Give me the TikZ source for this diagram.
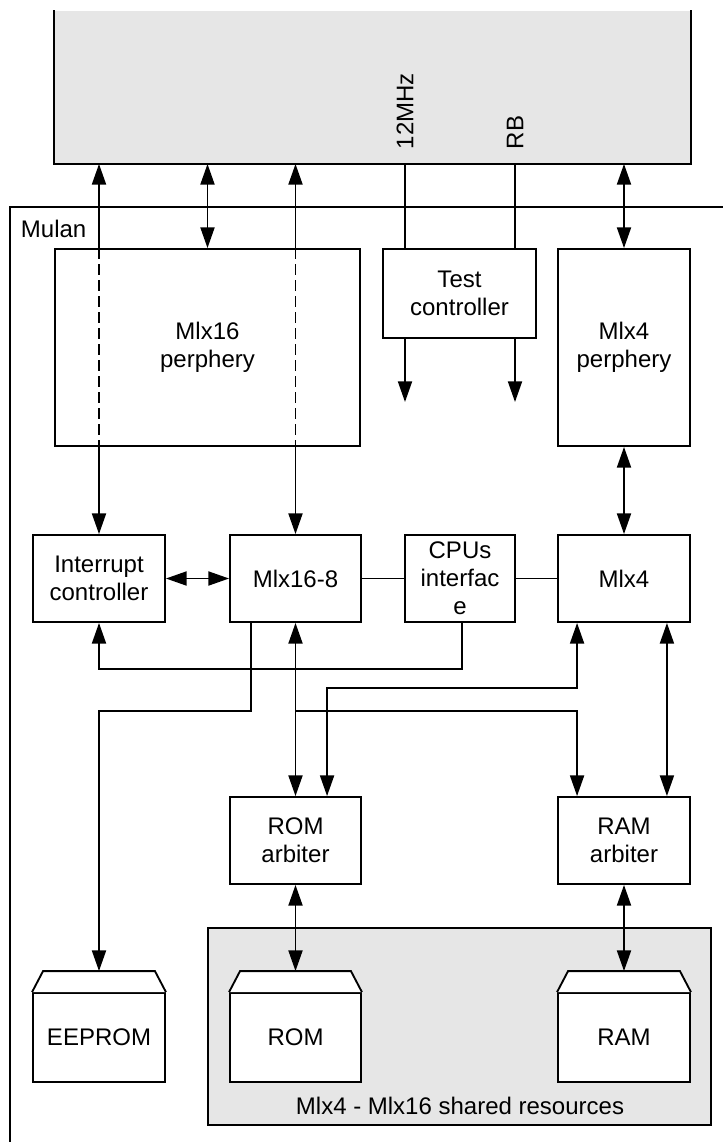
\documentclass[tikz,border=0pt]{standalone}
\usepackage{fontspec}
\setmainfont{Liberation Sans}
\usetikzlibrary{arrows.meta,calc}
\definecolor{shade}{HTML}{E6E6E6}
\begin{document}
\begin{tikzpicture}[x=0.75pt,y=-0.75pt, line width=1.4pt,
  txt/.style={font=\fontsize{18}{21}\selectfont},
  sz/.style 2 args={minimum width=#1*0.75pt, minimum height=#2*0.75pt},
  blk/.style={draw, fill=white, align=center, inner sep=0pt, txt},
  arr/.style={-{Triangle[length=15.5pt,width=10.5pt]}},
  darr/.style={{Triangle[length=15.5pt,width=10.5pt]}-{Triangle[length=15.5pt,width=10.5pt]}},
  dsh/.style={dash pattern=on 8pt off 4pt},
]
\useasboundingbox (0,0) rectangle (723,1142);

% top grey box (open at the top)
\node[fill=shade, sz={635}{152}, inner sep=0pt] (top) at (372.5,87) {};
\draw (top.north west) -- (top.south west) -- (top.south east) -- (top.north east);
\node[txt, rotate=90, anchor=west, inner sep=0pt] (clk) at (405,150) {12MHz};
\node[txt, rotate=90, anchor=west, inner sep=0pt] (rb) at (515,150) {RB};

% Mulan frame
\draw (723,207) -- (10,207) -- (10,1142);
\node[txt, anchor=west, inner sep=0pt] (mulan) at (20,229) {Mulan};

% blocks
\node[blk, sz={305}{197}] (p16) at (207.5,347.5) {Mlx16\\perphery};
\node[blk, sz={153}{89}] (test) at (459.5,293.5) {Test\\controller};
\node[blk, sz={132}{197}] (p4) at (624,347.5) {Mlx4\\perphery};
\node[blk, sz={132}{87}] (intr) at (99,578.5) {Interrupt\\controller};
\node[blk, sz={131}{87}] (m168) at (295.5,578.5) {Mlx16-8};
\node[blk, sz={110}{87}] (cpu) at (460,578.5) {CPUs\\interfac\\e};
\node[blk, sz={132}{87}] (m4) at (624,578.5) {Mlx4};
\node[blk, sz={131}{87}] (roma) at (295.5,840.5) {ROM\\arbiter};
\node[blk, sz={132}{87}] (rama) at (624,840.5) {RAM\\arbiter};

% shared resources
\node[draw, fill=shade, sz={503}{197}, inner sep=0pt] (shared) at (459.5,1026.5) {};
\node[txt] (sharedlbl) at (460,1106) {Mlx4 - Mlx16 shared resources};

% memories
\node[blk, sz={132}{89}] (eeprom) at (99,1037.5) {EEPROM};
\node[blk, sz={131}{89}] (rom) at (295.5,1037.5) {ROM};
\node[blk, sz={132}{89}] (ram) at (624,1037.5) {RAM};
\foreach \n in {eeprom,rom,ram}{
  \draw[fill=white] (\n.north west) -- ++(11,-21) -- ($(\n.north east)+(-11,-21)$) -- (\n.north east);
  \coordinate (\n top) at ($(\n.north)+(0,-21)$);
}

% connectors to top box
\draw[arr] (intr.north |- p16.north) -- (intr.north |- top.south);
\draw[dsh] (intr.north |- p16.north) -- (intr.north |- p16.south);
\draw[arr] (intr.north |- p16.south) -- (intr.north);
\draw[arr] (m168.north |- p16.north) -- (m168.north |- top.south);
\draw[dsh] (m168.north |- p16.north) -- (m168.north |- p16.south);
\draw[arr] (m168.north |- p16.south) -- (m168.north);
\draw[darr] (p16.north) -- (p16.north |- top.south);
\draw[darr] (p4.north) -- (p4.north |- top.south);

\coordinate (clkend) at (405,402);
\coordinate (rbend) at (515,402);
\draw (clkend |- top.south) -- (clkend |- test.north);
\draw[arr] (clkend |- test.south) -- (clkend);
\draw (rbend |- top.south) -- (rbend |- test.north);
\draw[arr] (rbend |- test.south) -- (rbend);

% middle row
\draw[darr] (p4.south) -- (m4.north);
\draw[darr] (intr.east) -- (m168.west);
\draw (m168.east) -- (cpu.west);
\draw (cpu.east) -- (m4.west);

% lower connectors
\coordinate (cpuout) at ($(cpu.south)+(2,0)$);
\draw[arr] (cpuout) -- ++(0,46) -| (intr.south);
\coordinate (m168a) at ($(m168.south west)+(22,0)$);
\draw[arr] (m168a) -- ++(0,88) -| (eepromtop);
\draw[darr] (m168.south) -- (roma.north);
\coordinate (j1) at ($(m168.south)+(0,88)$);
\coordinate (ramain) at ($(rama.north west)+(20,0)$);
\draw[arr] (j1) -| (ramain);
\coordinate (m4in) at ($(m4.south west)+(20,0)$);
\coordinate (romain) at ($(roma.north west)+(98,0)$);
\draw[darr] (m4in) |- ($(romain)+(0,-108)$) -- (romain);
\draw[darr] ($(m4.south east)+(-24,0)$) -- ($(rama.north east)+(-24,0)$);
\draw[darr] (roma.south) -- (romtop);
\draw[darr] (rama.south) -- (ramtop);
\end{tikzpicture}
\end{document}
